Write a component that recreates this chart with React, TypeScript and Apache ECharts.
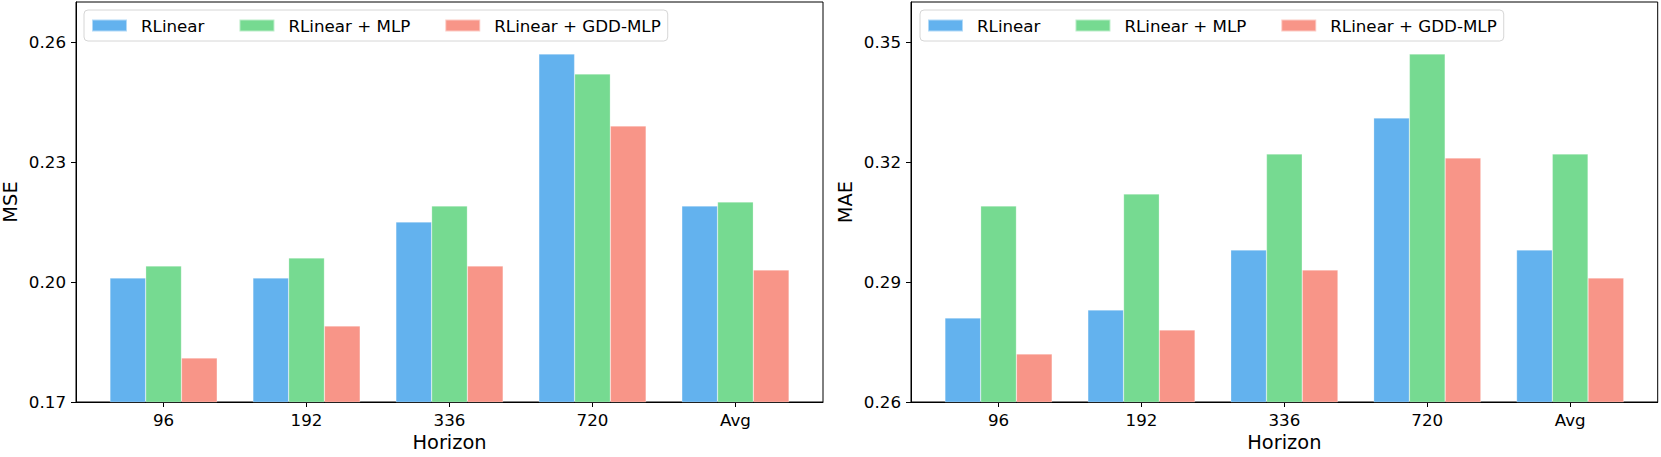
import React, { useEffect, useRef } from "react";
import * as echarts from "echarts";

const categories = ["96", "192", "336", "720", "Avg"];
const seriesNames = ["RLinear", "RLinear + MLP", "RLinear + GDD-MLP"];
const colors = ["#63b2ee", "#76da91", "#f89588"];

const mseRLinear = [0.201, 0.201, 0.215, 0.257, 0.219];
const mseMLP = [0.204, 0.206, 0.219, 0.252, 0.22];
const mseGDD = [0.181, 0.189, 0.204, 0.239, 0.203];

const maeRLinear = [0.281, 0.283, 0.298, 0.331, 0.298];
const maeMLP = [0.309, 0.312, 0.322, 0.347, 0.322];
const maeGDD = [0.272, 0.278, 0.293, 0.321, 0.291];

const mseTicks = [0.17, 0.2, 0.23, 0.26];
const maeTicks = [0.26, 0.29, 0.32, 0.35];

const FONT = "DejaVu Sans";

export default function App() {
  const ref = useRef<HTMLDivElement>(null);
  useEffect(() => {
    document.body.style.margin = "0";
    if (!ref.current) return;
    const chart = echarts.init(ref.current, null, { renderer: "svg" });
    const catIdx = categories.map((_, i) => i);
    const toPairs = (arr: number[]) => arr.map((v, i) => [i, v]);

    const makeX = (gridIndex: number) => ({
      type: "value",
      gridIndex,
      position: "bottom",
      min: -0.6125,
      max: 4.6125,
      name: "Horizon",
      nameLocation: "middle",
      nameGap: 31,
      nameTextStyle: { fontFamily: FONT, fontSize: 19.4, color: "#000" },
      axisLine: { show: true, onZero: false, lineStyle: { color: "#000", width: 1 } },
      axisTick: { show: true, inside: false, length: 5, customValues: catIdx, lineStyle: { color: "#000", width: 1 } },
      axisLabel: {
        customValues: catIdx,
        margin: 9,
        fontFamily: FONT,
        fontSize: 16.7,
        color: "#000",
        formatter: (v: number) => categories[Math.round(v)] ?? "",
      },
      splitLine: { show: false },
    });

    const makeY = (gridIndex: number, name: string, min: number, max: number, ticks: number[]) => ({
      type: "value",
      gridIndex,
      position: "left",
      min,
      max,
      name,
      nameLocation: "middle",
      nameGap: 56,
      nameTextStyle: { fontFamily: FONT, fontSize: 19.4, color: "#000" },
      axisLine: { show: true, onZero: false, lineStyle: { color: "#000", width: 1 } },
      axisTick: { show: true, inside: false, length: 5, customValues: ticks, lineStyle: { color: "#000", width: 1 } },
      axisLabel: {
        customValues: ticks,
        margin: 10,
        fontFamily: FONT,
        fontSize: 16.7,
        color: "#000",
        formatter: (v: number) => v.toFixed(2),
      },
      splitLine: { show: false },
    });

    const makeSeries = (gridIdx: number, data: number[][]) =>
      data.map((d, k) => ({
        type: "bar",
        name: seriesNames[k],
        xAxisIndex: gridIdx,
        yAxisIndex: gridIdx,
        data: toPairs(d),
        barWidth: "25%",
        barGap: "0%",
        clip: true,
        itemStyle: { color: colors[k], borderColor: "rgba(255,255,255,0.5)", borderWidth: 0.5 },
        emphasis: { disabled: true },
      }));

    const makeLegend = (left: number) => ({
      left,
      top: 10,
      orient: "horizontal",
      data: seriesNames,
      icon: "rect",
      itemWidth: 35,
      itemHeight: 12,
      itemGap: 34,
      padding: [6, 7, 6, 7],
      borderColor: "#d6d6d6",
      borderWidth: 1,
      borderRadius: 4,
      backgroundColor: "rgba(255,255,255,0.8)",
      textStyle: { fontFamily: FONT, fontSize: 16.7, color: "#000", lineHeight: 19, padding: [0, 0, 0, 9] },
      selectedMode: false,
    });

    chart.setOption({
      animation: false,
      textStyle: { fontFamily: FONT },
      grid: [
        { left: 76, top: 2, width: 747, height: 405, show: true, borderColor: "#000", borderWidth: 1, containLabel: false },
        { left: 911, top: 2, width: 746.7, height: 405, show: true, borderColor: "#000", borderWidth: 1, containLabel: false },
      ],
      legend: [makeLegend(84), makeLegend(920)],
      xAxis: [makeX(0), makeX(1)],
      yAxis: [makeY(0, "MSE", 0.17, 0.27, mseTicks), makeY(1, "MAE", 0.26, 0.36, maeTicks)],
      series: [
        ...makeSeries(0, [mseRLinear, mseMLP, mseGDD]),
        ...makeSeries(1, [maeRLinear, maeMLP, maeGDD]),
      ],
    });
    return () => chart.dispose();
  }, []);
  return <div ref={ref} style={{ width: 1661, height: 457 }} />;
}
